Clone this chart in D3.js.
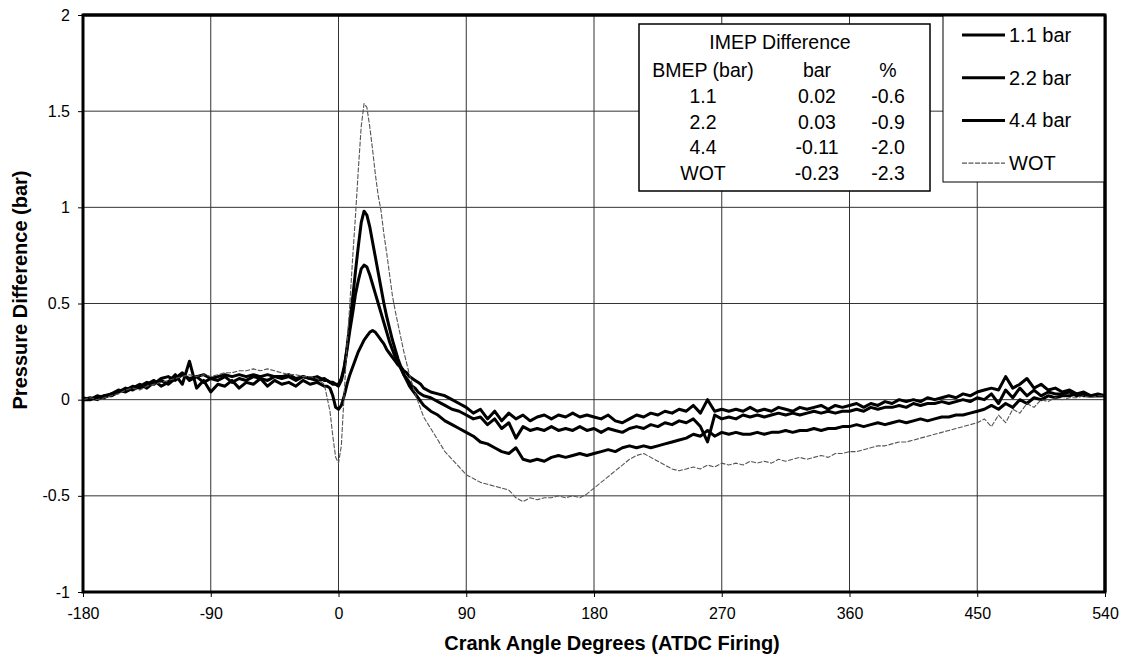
<!DOCTYPE html>
<html>
<head>
<meta charset="utf-8">
<script src="https://cdnjs.cloudflare.com/ajax/libs/d3/7.8.5/d3.min.js"></script>
<style>
  body { margin: 0; background: #fff; }
  text { font-family: Arial, "Liberation Sans", sans-serif; fill: #000; }
  .tick text { font-size: 16px; }
  .tick line { stroke: #000; }
  path.domain { stroke: none; }
  .grid line { stroke: #333; stroke-width: 1; }
</style>
</head>
<body>
<div id="viz">
  <svg width="1124" height="662"></svg>
</div>
<script>
// crank angle samples (deg ATDC)
var angles = [
  -180,-175,-170,-165,-160,-155,-150,-145,-140,-135,-130,-125,-120,-115,-110,-105,-100,-95,-90,-85,
  -80,-75,-70,-65,-60,-55,-50,-45,-40,-35,-30,-25,-20,-15,-10,
  -8,-6,-4,-2,0,2,4,6,8,10,12,14,16,18,20,22,24,26,28,30,32,34,36,38,40,42,44,46,48,50,52,54,56,58,
  60,65,70,75,80,85,90,95,100,105,110,115,120,125,130,135,140,145,150,155,160,165,170,175,180,
  185,190,195,200,205,210,215,220,225,230,235,240,245,250,255,260,265,270,275,280,285,290,295,300,
  305,310,315,320,325,330,335,340,345,350,355,360,365,370,375,380,385,390,395,400,405,410,415,420,
  425,430,435,440,445,450,455,460,465,470,475,480,485,490,495,500,505,510,515,520,525,530,535,540
];

var bar11 = [
  0.00,0.01,0.00,0.02,0.03,0.04,0.05,0.07,0.06,0.08,0.10,0.07,0.09,0.13,0.08,0.20,0.06,0.10,0.04,0.08,
  0.07,0.10,0.06,0.09,0.08,0.11,0.07,0.10,0.08,0.09,0.07,0.10,0.08,0.09,0.07,
  0.07,0.06,0.02,-0.04,-0.05,-0.03,0.02,0.08,0.13,0.17,0.21,0.25,0.28,0.31,0.33,0.35,0.36,0.35,0.33,0.31,0.29,0.26,0.24,0.22,0.20,0.18,0.17,0.15,0.14,0.12,0.11,0.10,0.09,0.08,
  0.06,0.04,0.03,0.02,0.00,-0.02,-0.04,-0.07,-0.05,-0.10,-0.06,-0.11,-0.07,-0.10,-0.08,-0.11,-0.09,-0.08,-0.10,-0.08,-0.09,-0.07,-0.09,-0.08,-0.09,
  -0.10,-0.08,-0.11,-0.12,-0.10,-0.08,-0.09,-0.07,-0.08,-0.06,-0.07,-0.05,-0.06,-0.03,-0.07,0.00,-0.06,-0.05,-0.06,-0.05,-0.06,-0.04,-0.06,-0.05,
  -0.06,-0.04,-0.05,-0.06,-0.04,-0.05,-0.04,-0.03,-0.05,-0.03,-0.04,-0.03,-0.02,-0.04,-0.02,-0.03,-0.01,-0.02,0.00,-0.01,0.00,-0.01,0.01,0.00,
  0.01,0.02,0.01,0.03,0.02,0.04,0.05,0.06,0.05,0.12,0.06,0.08,0.11,0.06,0.08,0.05,0.06,0.04,0.05,0.03,0.04,0.02,0.03,0.02
];

var bar22 = [
  0.00,0.00,0.02,0.01,0.03,0.05,0.04,0.06,0.08,0.06,0.09,0.10,0.08,0.11,0.14,0.10,0.12,0.09,0.11,0.10,
  0.12,0.09,0.11,0.10,0.12,0.11,0.10,0.12,0.11,0.12,0.10,0.12,0.11,0.10,0.11,
  0.10,0.09,0.09,0.08,0.08,0.11,0.17,0.26,0.36,0.45,0.55,0.62,0.68,0.70,0.69,0.65,0.60,0.55,0.50,0.45,0.40,0.35,0.30,0.26,0.22,0.19,0.16,0.13,0.11,0.09,0.07,0.06,0.04,0.03,
  0.02,0.01,-0.01,-0.03,-0.05,-0.06,-0.08,-0.10,-0.09,-0.13,-0.10,-0.15,-0.12,-0.20,-0.14,-0.16,-0.15,-0.16,-0.14,-0.16,-0.15,-0.16,-0.14,-0.16,-0.15,
  -0.17,-0.15,-0.16,-0.17,-0.15,-0.14,-0.15,-0.13,-0.14,-0.12,-0.13,-0.11,-0.12,-0.10,-0.14,-0.22,-0.08,-0.10,-0.09,-0.10,-0.08,-0.09,-0.08,-0.09,
  -0.08,-0.07,-0.08,-0.07,-0.08,-0.07,-0.06,-0.07,-0.06,-0.07,-0.06,-0.06,-0.05,-0.06,-0.04,-0.05,-0.04,-0.04,-0.03,-0.04,-0.02,-0.03,-0.02,-0.02,
  -0.01,-0.02,-0.01,0.00,-0.01,0.01,0.00,0.03,-0.02,0.05,0.01,0.06,0.02,0.05,0.02,0.04,0.03,0.03,0.04,0.02,0.03,0.02,0.02,0.02
];

var bar44 = [
  0.01,0.00,0.01,0.02,0.02,0.04,0.06,0.05,0.07,0.09,0.08,0.11,0.12,0.10,0.13,0.11,0.12,0.13,0.11,0.12,
  0.13,0.12,0.13,0.12,0.13,0.12,0.13,0.12,0.12,0.13,0.11,0.12,0.11,0.12,0.10,
  0.10,0.09,0.08,0.08,0.07,0.10,0.16,0.27,0.40,0.53,0.67,0.80,0.92,0.98,0.96,0.90,0.82,0.74,0.66,0.58,0.50,0.43,0.37,0.31,0.26,0.21,0.17,0.13,0.10,0.07,0.05,0.03,0.01,-0.01,
  -0.03,-0.06,-0.08,-0.11,-0.13,-0.15,-0.17,-0.19,-0.22,-0.23,-0.25,-0.27,-0.28,-0.25,-0.31,-0.32,-0.31,-0.32,-0.30,-0.29,-0.30,-0.29,-0.28,-0.29,-0.28,
  -0.27,-0.26,-0.27,-0.25,-0.24,-0.25,-0.24,-0.25,-0.24,-0.23,-0.22,-0.21,-0.20,-0.18,-0.19,-0.16,-0.19,-0.17,-0.18,-0.17,-0.18,-0.18,-0.17,-0.18,
  -0.17,-0.17,-0.16,-0.17,-0.16,-0.16,-0.15,-0.16,-0.15,-0.15,-0.14,-0.14,-0.13,-0.14,-0.13,-0.12,-0.13,-0.12,-0.11,-0.12,-0.11,-0.10,-0.11,-0.10,
  -0.09,-0.09,-0.08,-0.08,-0.07,-0.06,-0.05,-0.03,-0.05,-0.02,-0.04,0.00,-0.02,0.01,0.00,0.02,0.01,0.02,0.02,0.03,0.02,0.02,0.02,0.02
];

var wot = [
  0.00,0.01,0.00,0.01,0.02,0.03,0.05,0.06,0.05,0.07,0.08,0.09,0.10,0.11,0.12,0.13,0.12,0.13,0.12,0.13,
  0.14,0.14,0.15,0.15,0.16,0.15,0.16,0.15,0.14,0.13,0.13,0.12,0.12,0.11,0.08,
  0.01,-0.06,-0.19,-0.30,-0.33,-0.24,0.03,0.28,0.50,0.74,0.96,1.20,1.42,1.54,1.52,1.42,1.30,1.17,1.06,0.98,0.86,0.76,0.65,0.54,0.46,0.39,0.32,0.25,0.19,0.13,0.08,0.03,-0.01,-0.05,
  -0.09,-0.15,-0.21,-0.27,-0.31,-0.35,-0.39,-0.41,-0.43,-0.44,-0.45,-0.46,-0.47,-0.51,-0.53,-0.51,-0.52,-0.51,-0.51,-0.50,-0.51,-0.50,-0.51,-0.49,-0.46,
  -0.43,-0.40,-0.37,-0.34,-0.31,-0.29,-0.28,-0.30,-0.32,-0.34,-0.36,-0.37,-0.36,-0.35,-0.36,-0.34,-0.35,-0.33,-0.34,-0.33,-0.34,-0.32,-0.33,-0.32,
  -0.33,-0.31,-0.32,-0.31,-0.30,-0.31,-0.30,-0.29,-0.30,-0.28,-0.28,-0.27,-0.27,-0.26,-0.25,-0.24,-0.24,-0.23,-0.22,-0.22,-0.21,-0.20,-0.19,-0.18,
  -0.17,-0.16,-0.15,-0.14,-0.13,-0.12,-0.10,-0.14,-0.08,-0.12,-0.05,-0.07,-0.02,-0.04,0.00,-0.01,0.01,0.00,0.01,0.01,0.02,0.01,0.02,0.02
];

var seriesNames = ["1.1 bar", "2.2 bar", "4.4 bar", "WOT"];
var seriesValues = [bar11, bar22, bar44, wot];

var xTicks = [-180, -90, 0, 90, 180, 270, 360, 450, 540];
var yTicks = [-1, -0.5, 0, 0.5, 1, 1.5, 2];

var tableTitle = "IMEP Difference";
var tableHead = ["BMEP (bar)", "bar", "%"];
var tableBmep = ["1.1", "2.2", "4.4", "WOT"];
var tableBar = ["0.02", "0.03", "-0.11", "-0.23"];
var tablePct = ["-0.6", "-0.9", "-2.0", "-2.3"];

var pLeft = 83, pRight = 1105, pTop = 15, pBottom = 592;

var svg = d3.select("svg");

var xScale = d3.scaleLinear().domain([-180, 540]).range([pLeft, pRight]);
var yScale = d3.scaleLinear().domain([-1, 2]).range([pBottom, pTop]);

// grid
svg.append("g").attr("class", "grid")
  .selectAll("line").data(xTicks.slice(1, -1)).enter().append("line")
    .attr("x1", d => xScale(d)).attr("x2", d => xScale(d))
    .attr("y1", pTop).attr("y2", pBottom);
svg.append("g").attr("class", "grid")
  .selectAll("line").data(yTicks.slice(1, -1)).enter().append("line")
    .attr("x1", pLeft).attr("x2", pRight)
    .attr("y1", d => yScale(d)).attr("y2", d => yScale(d));

// axes (plain hyphen minus like the original)
var xAxis = d3.axisBottom(xScale).tickValues(xTicks).tickSize(5).tickPadding(11).tickFormat(d => String(d));
svg.append("g").attr("transform", `translate(0,${pBottom})`).call(xAxis);

var yAxis = d3.axisLeft(yScale).tickValues(yTicks).tickSize(5).tickPadding(8).tickFormat(d => String(d));
svg.append("g").attr("transform", `translate(${pLeft},0)`).call(yAxis);

// curves
var line = d3.line()
  .x((d, i) => xScale(angles[i]))
  .y(d => yScale(d));

var plot = svg.append("g");
seriesValues.forEach((vals, k) => {
  var isWot = k == 3;
  plot.append("path")
    .attr("d", line(vals))
    .attr("fill", "none")
    .attr("stroke", isWot ? "#555" : "#000")
    .attr("stroke-width", isWot ? 1.1 : 3)
    .attr("stroke-dasharray", isWot ? "5,1.5" : null)
    .attr("stroke-linejoin", "round");
});

// plot frame
svg.append("rect")
  .attr("x", pLeft).attr("y", pTop)
  .attr("width", pRight - pLeft).attr("height", pBottom - pTop)
  .attr("fill", "none").attr("stroke", "#000").attr("stroke-width", 3);

// IMEP table
var tb = svg.append("g");
tb.append("rect")
  .attr("x", 639).attr("y", 24).attr("width", 291).attr("height", 167)
  .attr("fill", "#fff").attr("stroke", "#000").attr("stroke-width", 1.5);
var colX = [703, 817, 888];
tb.append("text").attr("x", 780).attr("y", 49).attr("text-anchor", "middle")
  .style("font-size", "19.5px").text(tableTitle);
var rows = [tableHead].concat(tableBmep.map((b, i) => [b, tableBar[i], tablePct[i]]));
rows.forEach((r, i) => {
  r.forEach((c, j) => {
    tb.append("text")
      .attr("x", colX[j]).attr("y", 77 + i * 25.8)
      .attr("text-anchor", "middle")
      .style("font-size", "19.5px")
      .text(c);
  });
});

// legend
var lg = svg.append("g");
lg.append("rect")
  .attr("x", 943).attr("y", pTop).attr("width", pRight - 943).attr("height", 167)
  .attr("fill", "#fff").attr("stroke", "#000").attr("stroke-width", 1);
seriesNames.forEach((name, k) => {
  var yy = 35 + k * 42.7;
  var isWot = k == 3;
  lg.append("line")
    .attr("x1", 962).attr("x2", 1005).attr("y1", yy).attr("y2", yy)
    .attr("stroke", isWot ? "#555" : "#000")
    .attr("stroke-width", isWot ? 1.1 : 3)
    .attr("stroke-dasharray", isWot ? "5,1.5" : null);
  lg.append("text").attr("x", 1009).attr("y", yy + 7)
    .style("font-size", "20px").text(name);
});
// redraw frame edges over legend
svg.append("line").attr("x1", pRight).attr("x2", pRight).attr("y1", pTop).attr("y2", pBottom)
  .attr("stroke", "#000").attr("stroke-width", 3);
svg.append("line").attr("x1", pLeft).attr("x2", pRight).attr("y1", pTop).attr("y2", pTop)
  .attr("stroke", "#000").attr("stroke-width", 3);

// axis titles
svg.append("text")
  .attr("x", 612).attr("y", 650)
  .attr("text-anchor", "middle")
  .style("font-size", "20px").style("font-weight", "bold")
  .text("Crank Angle Degrees (ATDC Firing)");
svg.append("text")
  .attr("transform", "translate(27,290) rotate(-90)")
  .attr("text-anchor", "middle")
  .style("font-size", "20px").style("font-weight", "bold")
  .text("Pressure Difference (bar)");
</script>
</body>
</html>
